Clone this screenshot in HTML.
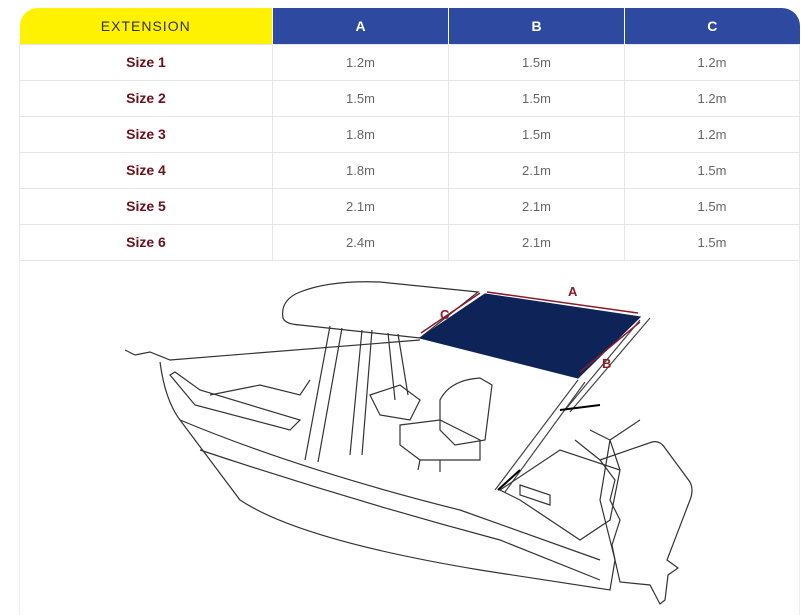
<!DOCTYPE html>
<html><head><style>
body{margin:0;width:806px;height:615px;background:#fff;font-family:"Liberation Sans",sans-serif;overflow:hidden;position:relative}
table{position:absolute;left:19px;top:8px;border-collapse:collapse;width:781px}
td,th{height:36px;text-align:center;font-size:13px;border:1px solid #e6e6e6;padding:0;box-sizing:border-box}
th{height:36px;color:#fff;background:#2d4aa0;font-weight:bold;font-size:14px;border:none;border-left:1px solid #fff}
th.e{background:#fff200;color:#333;font-weight:normal;letter-spacing:1px;border-radius:18px 0 0 0;border-left:none}
th.l{border-radius:0 18px 0 0}
td.s{color:#6b0f1a;font-size:14px;font-weight:bold}
td{color:#666}
.img{position:absolute;left:19px;top:260px;width:781px;height:355px;border-left:1px solid #eee;border-right:1px solid #eee;box-sizing:border-box}
</style></head><body>
<table>
<tr><th class="e" style="width:253px">EXTENSION</th><th style="width:176px">A</th><th style="width:176px">B</th><th class="l">C</th></tr>
<tr><td class="s">Size 1</td><td>1.2m</td><td>1.5m</td><td>1.2m</td></tr>
<tr><td class="s">Size 2</td><td>1.5m</td><td>1.5m</td><td>1.2m</td></tr>
<tr><td class="s">Size 3</td><td>1.8m</td><td>1.5m</td><td>1.2m</td></tr>
<tr><td class="s">Size 4</td><td>1.8m</td><td>2.1m</td><td>1.5m</td></tr>
<tr><td class="s">Size 5</td><td>2.1m</td><td>2.1m</td><td>1.5m</td></tr>
<tr><td class="s">Size 6</td><td>2.4m</td><td>2.1m</td><td>1.5m</td></tr>
</table>
<div class="img"></div>
<svg width="806" height="615" style="position:absolute;left:0;top:0" fill="none" stroke="#333" stroke-width="1.2">
<path d="M283,318 Q280,300 300,292 Q330,280 380,282 L478,292 L420,338 L300,325 Q285,324 283,318Z"/>
<path d="M330,326 L305,460 M342,328 L318,462 M362,330 L350,455 M372,330 L362,455 M388,333 L395,400 M398,334 L408,395"/>
<path d="M125,350 L135,355 L150,352 L170,360 L420,340 M160,362 Q165,400 180,420 L240,500 Q300,540 480,570 L610,590 L615,560 L600,500 L610,440 L640,420"/>
<path d="M180,420 Q300,470 460,510 L600,560"/>
<path d="M200,450 Q350,500 500,540 L600,580"/>
<path d="M170,375 L195,405 L290,430 L300,420 L200,390 L175,372Z"/>
<path d="M210,395 L260,385 L300,395 L310,380"/>
<path d="M370,395 L400,385 L420,400 L410,420 L380,415Z"/>
<path d="M440,400 Q450,380 480,378 L492,385 L485,440 L455,445 L440,430Z"/>
<path d="M400,425 L440,420 L480,440 L480,460 L420,460 L400,445Z M420,460 L418,470 M440,460 L440,472"/>
<path d="M578,380 L495,490 M585,382 L505,492 M640,320 L565,410 M650,318 L570,412" stroke="#444"/>
<path d="M560,410 L600,405 M520,470 L498,490" stroke="#000" stroke-width="2"/>
<path d="M500,490 L560,450 L620,470 L610,520 L580,540 L520,500Z M520,485 L550,495 L550,505 L520,495Z"/>
<path d="M590,430 L610,440 L620,470 M575,440 L600,460"/>
<path d="M600,460 L652,442 Q660,440 665,448 L690,482 Q694,490 690,500 L667,560 L678,568 L668,575 L665,600 L660,604 L650,585 L620,582 L615,560 L612,545 L620,520 L610,500 L615,480Z"/>
<polygon points="485,294 640,317 578,378 420,338" fill="#0e2459" stroke="#0e2459"/>
<g stroke="#8b1a2a" stroke-width="1.5">
<path d="M487,292 L638,313 M480,293 L421,333 M640,322 L580,372"/>
</g>
<g fill="#8b1a2a" font-family="Liberation Sans" font-weight="bold" font-size="13" stroke="none">
<text x="568" y="296">A</text><text x="440" y="319">C</text><text x="602" y="368">B</text>
</g>
</svg>
</body></html>
